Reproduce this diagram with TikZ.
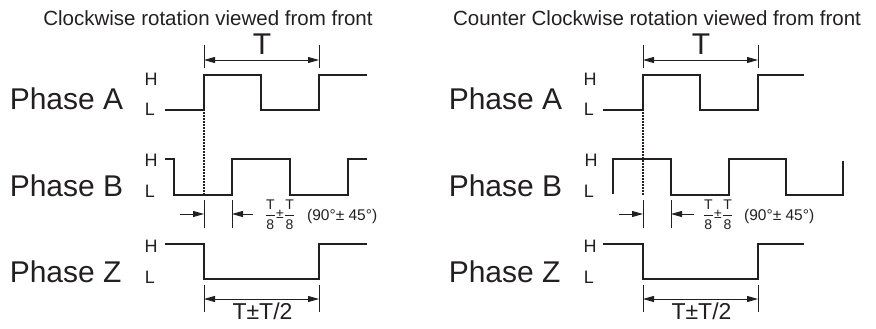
\documentclass[tikz,border=0pt]{standalone}
\usepackage{fontspec}
\setmainfont{Liberation Sans}
\usetikzlibrary{arrows.meta}
\definecolor{ink}{RGB}{35,31,32}
\newcommand{\eighth}{\ensuremath{\displaystyle{\mbox{T}\above1.2pt\mbox{8}}}}
\begin{document}
\begin{tikzpicture}[x=1pt,y=-1pt,
  every node/.style={inner sep=0pt,text=ink},
  wave/.style={line width=2.4pt,line join=miter,draw=ink},
  tickline/.style={line width=0.9pt,draw=ink},
  both/.style={line width=0.9pt,draw=ink,{Triangle[length=11pt,width=6pt]}-{Triangle[length=11pt,width=6pt]}},
  onearr/.style={line width=0.9pt,draw=ink,-{Triangle[length=11pt,width=6pt]}},
  guide/.style={line width=1.2pt,draw=ink,dash pattern=on 1.5pt off 1.5pt},
  phase/.style={font=\fontsize{30}{30}\selectfont,anchor=base west},
  hl/.style={font=\fontsize{18}{18}\selectfont,anchor=base},
  titletext/.style={font=\fontsize{20.5}{20.5}\selectfont,anchor=base},
  bigT/.style={font=\fontsize{30}{30}\selectfont,anchor=base},
  tol/.style={font=\fontsize{23}{23}\selectfont,anchor=base},
  frac/.style={font=\fontsize{14}{14}\selectfont,anchor=center},
  deg/.style={font=\fontsize{15.5}{15.5}\selectfont,anchor=base west},
]
\useasboundingbox (0,0) rectangle (876,329);

% ---------------- left panel ----------------
\node[titletext] (ltitle) at (208,26) {Clockwise rotation viewed from front};
\coordinate (lT1t) at (204,45); \coordinate (lT1b) at (204,68); \coordinate (lT1m) at (204,60);
\coordinate (lT2t) at (319,45); \coordinate (lT2b) at (319,68); \coordinate (lT2m) at (319,60);
\draw[tickline] (lT1t) -- (lT1b);
\draw[tickline] (lT2t) -- (lT2b);
\draw[both] (lT1m) -- (lT2m);
\node[bigT] (lTlab) at (262,55) {T};

\node[phase] (lpa) at (9.6,110) {Phase A};
\node[hl] (lah) at (151,85) {H};
\node[hl] (lal) at (150,115) {L};
\draw[wave] (165,110) -- (204,110) -- (204,75) -- (261,75) -- (261,110) -- (319,110) -- (319,75) -- (367,75);
\coordinate (lg1) at (204,112); \coordinate (lg2) at (204,195);
\draw[guide] (lg1) -- (lg2);

\node[phase] (lpb) at (9.6,196) {Phase B};
\node[hl] (lbh) at (151,166) {H};
\node[hl] (lbl) at (150,197) {L};
\draw[wave] (165,159) -- (174,159) -- (174,195) -- (232,195) -- (232,159) -- (290,159) -- (290,195) -- (348,195) -- (348,159) -- (367,159);
\coordinate (lb1t) at (204,200); \coordinate (lb1b) at (204,228); \coordinate (lb1m) at (204,214);
\coordinate (lb2t) at (232,200); \coordinate (lb2b) at (232,228); \coordinate (lb2m) at (232,214);
\coordinate (lbla) at (180,214); \coordinate (lbra) at (253,214);
\draw[tickline] (lb1t) -- (lb1b);
\draw[tickline] (lb2t) -- (lb2b);
\draw[onearr] (lbla) -- (lb1m);
\draw[onearr] (lbra) -- (lb2m);
\node[frac] (lfrac) at (280,214.5) {\eighth\kern0.3pt±\kern0.3pt\eighth};
\node[deg] (ldeg) at (307,220) {(90°± 45°)};

\node[phase] (lpz) at (9.6,282) {Phase Z};
\node[hl] (lzh) at (151,252) {H};
\node[hl] (lzl) at (150,283) {L};
\draw[wave] (165,244) -- (204,244) -- (204,279) -- (319,279) -- (319,244) -- (367,244);
\coordinate (lz1t) at (204,285); \coordinate (lz1b) at (204,312); \coordinate (lz1m) at (204,299);
\coordinate (lz2t) at (319,285); \coordinate (lz2b) at (319,312); \coordinate (lz2m) at (319,299);
\draw[tickline] (lz1t) -- (lz1b);
\draw[tickline] (lz2t) -- (lz2b);
\draw[both] (lz1m) -- (lz2m);
\node[tol] (lzlab) at (262.5,319) {T±T/2};

% ---------------- right panel ----------------
\node[titletext] (rtitle) at (657,26) {Counter Clockwise rotation viewed from front};
\coordinate (rT1t) at (643,45); \coordinate (rT1b) at (643,68); \coordinate (rT1m) at (643,60);
\coordinate (rT2t) at (758,45); \coordinate (rT2b) at (758,68); \coordinate (rT2m) at (758,60);
\draw[tickline] (rT1t) -- (rT1b);
\draw[tickline] (rT2t) -- (rT2b);
\draw[both] (rT1m) -- (rT2m);
\node[bigT] (rTlab) at (701,55) {T};

\node[phase] (rpa) at (448.6,110) {Phase A};
\node[hl] (rah) at (590,85) {H};
\node[hl] (ral) at (589,115) {L};
\draw[wave] (603,110) -- (643,110) -- (643,75) -- (700,75) -- (700,110) -- (758,110) -- (758,75) -- (804,75);
\coordinate (rg1) at (643,112); \coordinate (rg2) at (643,195);
\draw[guide] (rg1) -- (rg2);

\node[phase] (rpb) at (448.6,196) {Phase B};
\node[hl] (rbh) at (591,166) {H};
\node[hl] (rbl) at (589,197) {L};
\draw[wave] (613,194) -- (613,159) -- (671,159) -- (671,195) -- (729,195) -- (729,159) -- (786,159) -- (786,195) -- (843,195) -- (843,161);
\coordinate (rb1t) at (643,200); \coordinate (rb1b) at (643,228); \coordinate (rb1m) at (643,214);
\coordinate (rb2t) at (671,200); \coordinate (rb2b) at (671,228); \coordinate (rb2m) at (671,214);
\coordinate (rbla) at (619,214); \coordinate (rbra) at (694,214);
\draw[tickline] (rb1t) -- (rb1b);
\draw[tickline] (rb2t) -- (rb2b);
\draw[onearr] (rbla) -- (rb1m);
\draw[onearr] (rbra) -- (rb2m);
\node[frac] (rfrac) at (718,214.5) {\eighth\kern0.3pt±\kern0.3pt\eighth};
\node[deg] (rdeg) at (744,220) {(90°± 45°)};

\node[phase] (rpz) at (448.6,282) {Phase Z};
\node[hl] (rzh) at (590,252) {H};
\node[hl] (rzl) at (589,283) {L};
\draw[wave] (603,244) -- (643,244) -- (643,279) -- (758,279) -- (758,244) -- (804,244);
\coordinate (rz1t) at (643,285); \coordinate (rz1b) at (643,312); \coordinate (rz1m) at (643,299);
\coordinate (rz2t) at (758,285); \coordinate (rz2b) at (758,312); \coordinate (rz2m) at (758,299);
\draw[tickline] (rz1t) -- (rz1b);
\draw[tickline] (rz2t) -- (rz2b);
\draw[both] (rz1m) -- (rz2m);
\node[tol] (rzlab) at (701.5,319) {T±T/2};
\end{tikzpicture}
\end{document}
